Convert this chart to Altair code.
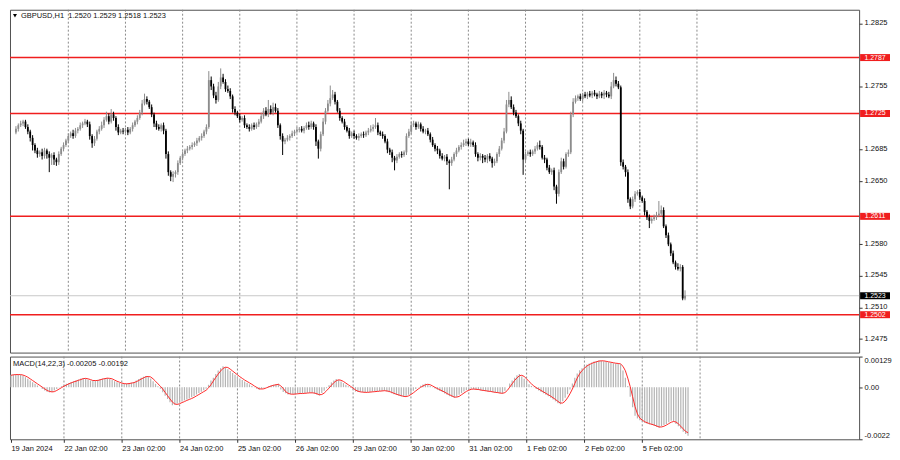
import altair as alt
import pandas as pd

# ---------------- data ----------------
# GBPUSD H1 closes, bar 0 = 19 Jan 2024 04:00 ... bar 281 = 5 Feb 21:00
close = [
    1.2708, 1.2712, 1.2714, 1.2716, 1.2710, 1.2705, 1.2698, 1.2690, 1.2684, 1.2680,
    1.2682, 1.2678, 1.2684, 1.2680, 1.2676, 1.2679, 1.2674, 1.2671, 1.2680, 1.2686,
    1.2690, 1.2695, 1.2700, 1.2703, 1.2700, 1.2706, 1.2708, 1.2712, 1.2714, 1.2716,
    1.2713, 1.2700, 1.2692, 1.2697, 1.2705, 1.2708, 1.2712, 1.2718, 1.2722, 1.2716,
    1.2724, 1.2720, 1.2710, 1.2704, 1.2706, 1.2705, 1.2707, 1.2704, 1.2708, 1.2712,
    1.2716, 1.2720, 1.2726, 1.2736, 1.2741, 1.2738, 1.2732, 1.2724, 1.2714, 1.2710,
    1.2708, 1.2712, 1.2706, 1.2680, 1.2660, 1.2655, 1.2658, 1.2660, 1.2670, 1.2676,
    1.2680, 1.2684, 1.2686, 1.2688, 1.2690, 1.2692, 1.2695, 1.2698, 1.2700, 1.2705,
    1.2710, 1.2762, 1.2755, 1.2745, 1.2740, 1.2755, 1.2765, 1.2760, 1.2752, 1.2750,
    1.2744, 1.2730, 1.2726, 1.2722, 1.2718, 1.2720, 1.2712, 1.2710, 1.2708, 1.2712,
    1.2710, 1.2713, 1.2716, 1.2722, 1.2728, 1.2724, 1.2730, 1.2726, 1.2732, 1.2728,
    1.2712, 1.2700, 1.2694, 1.2696, 1.2698, 1.2700, 1.2703, 1.2705, 1.2707, 1.2708,
    1.2706, 1.2709, 1.2712, 1.2710, 1.2714, 1.2710, 1.2694, 1.2686, 1.2702, 1.2716,
    1.2728, 1.2736, 1.2742, 1.2746, 1.2738, 1.2728, 1.2720, 1.2716, 1.2710, 1.2706,
    1.2700, 1.2703, 1.2700, 1.2698, 1.2700, 1.2702, 1.2701, 1.2704, 1.2706, 1.2708,
    1.2710, 1.2712, 1.2704, 1.2702, 1.2700, 1.2694, 1.2685, 1.2682, 1.2676, 1.2673,
    1.2677, 1.2680, 1.2679, 1.2682, 1.2700, 1.2705, 1.2712, 1.2714, 1.2710, 1.2713,
    1.2708, 1.2705, 1.2706, 1.2702, 1.2696, 1.2690, 1.2686, 1.2684, 1.2678, 1.2675,
    1.2677, 1.2672, 1.2670, 1.2674, 1.2680, 1.2684, 1.2688, 1.2690, 1.2692, 1.2694,
    1.2691, 1.2693, 1.2690, 1.2680, 1.2676, 1.2678, 1.2676, 1.2674, 1.2678, 1.2675,
    1.2670, 1.2672, 1.2680, 1.2686, 1.2695, 1.2705, 1.2735, 1.2740, 1.2732, 1.2726,
    1.2722, 1.2714, 1.2706, 1.2674, 1.2680, 1.2682, 1.2680, 1.2683, 1.2686, 1.2690,
    1.2688, 1.2676, 1.2674, 1.2665, 1.2660, 1.2662, 1.2644, 1.2636, 1.2660, 1.2672,
    1.2666, 1.2680, 1.2682, 1.2724, 1.2738, 1.2742, 1.2744, 1.2741, 1.2746, 1.2744,
    1.2747, 1.2745, 1.2748, 1.2746, 1.2744, 1.2747, 1.2745, 1.2748, 1.2746, 1.2744,
    1.2755, 1.2762, 1.2758, 1.2754, 1.2671, 1.2666, 1.2660, 1.2630, 1.2622, 1.2630,
    1.2636, 1.2638, 1.2632, 1.2628, 1.2616, 1.2610, 1.2606, 1.2608, 1.2610, 1.2612,
    1.2614, 1.2618, 1.2600, 1.2590, 1.2580, 1.2570, 1.2560, 1.2555, 1.2553, 1.2555,
    1.2520, 1.2523,
]
first_open = 1.2704

# wick lengths above / below the candle body, in pips
up_wick = [
    3, 2, 3, 2, 2, 3, 2, 3, 2, 3,
    2, 4, 3, 2, 3, 2, 3, 2, 3, 2,
    3, 2, 3, 2, 4, 3, 2, 3, 2, 3,
    2, 3, 2, 3, 2, 3, 4, 3, 5, 3,
    6, 3, 2, 3, 2, 3, 2, 3, 2, 3,
    2, 3, 3, 4, 6, 3, 2, 3, 2, 3,
    3, 2, 3, 2, 3, 2, 3, 2, 3, 2,
    3, 2, 3, 2, 3, 2, 3, 2, 3, 2,
    3, 10, 4, 3, 4, 5, 10, 4, 3, 4,
    3, 2, 3, 2, 3, 2, 3, 2, 3, 2,
    3, 2, 3, 4, 3, 4, 10, 4, 5, 4,
    3, 2, 3, 2, 3, 2, 3, 2, 3, 2,
    3, 2, 3, 4, 3, 2, 3, 2, 3, 4,
    3, 4, 14, 5, 3, 2, 3, 2, 3, 2,
    3, 2, 3, 2, 3, 2, 3, 2, 3, 4,
    3, 8, 3, 2, 3, 2, 3, 2, 3, 2,
    3, 2, 3, 2, 3, 3, 4, 3, 2, 3,
    2, 3, 2, 3, 2, 3, 2, 3, 2, 3,
    2, 3, 2, 3, 2, 3, 2, 3, 4, 3,
    3, 4, 2, 3, 2, 3, 2, 3, 2, 3,
    2, 3, 2, 3, 3, 4, 5, 9, 4, 3,
    3, 2, 3, 2, 3, 2, 3, 2, 3, 3,
    5, 2, 3, 2, 3, 2, 3, 2, 3, 4,
    3, 2, 3, 3, 4, 3, 2, 3, 2, 3,
    2, 3, 2, 3, 2, 3, 2, 3, 2, 3,
    5, 8, 4, 3, 2, 3, 2, 3, 2, 3,
    3, 2, 3, 2, 3, 2, 3, 2, 3, 4,
    14, 5, 3, 2, 3, 2, 3, 2, 4, 3,
    2, 6,
]
down_wick = [
    2, 3, 2, 3, 2, 3, 4, 6, 3, 4,
    3, 4, 3, 5, 16, 8, 6, 4, 3, 2,
    3, 2, 3, 2, 3, 2, 3, 2, 3, 2,
    3, 4, 5, 3, 2, 3, 2, 3, 2, 3,
    2, 3, 4, 3, 2, 3, 2, 3, 2, 3,
    2, 3, 2, 3, 2, 3, 2, 3, 4, 3,
    2, 3, 4, 5, 4, 5, 6, 4, 3, 2,
    3, 2, 3, 2, 3, 2, 3, 2, 3, 2,
    3, 2, 4, 3, 4, 2, 3, 2, 3, 2,
    3, 4, 3, 2, 3, 2, 3, 2, 3, 2,
    3, 2, 3, 2, 3, 2, 3, 2, 3, 2,
    3, 4, 15, 3, 2, 3, 2, 3, 2, 3,
    2, 3, 2, 3, 2, 3, 5, 11, 3, 2,
    3, 2, 3, 2, 3, 2, 3, 2, 3, 2,
    3, 2, 3, 2, 3, 2, 3, 2, 3, 2,
    3, 2, 3, 2, 3, 2, 4, 3, 5, 11,
    3, 2, 3, 2, 3, 2, 3, 2, 3, 2,
    3, 2, 3, 2, 3, 2, 3, 4, 3, 2,
    3, 4, 29, 3, 2, 3, 2, 3, 2, 3,
    2, 3, 2, 3, 4, 3, 6, 3, 4, 3,
    5, 3, 2, 3, 2, 3, 2, 3, 2, 3,
    2, 3, 4, 17, 3, 2, 3, 2, 3, 2,
    3, 2, 4, 3, 2, 3, 4, 11, 3, 2,
    3, 2, 3, 2, 3, 2, 3, 2, 3, 2,
    3, 2, 3, 2, 3, 2, 3, 4, 3, 2,
    3, 2, 3, 2, 4, 3, 5, 4, 3, 2,
    3, 2, 3, 2, 4, 3, 8, 3, 2, 3,
    2, 3, 2, 3, 2, 3, 2, 3, 2, 3,
    2, 2,
]

# MACD(14,22,3) histogram and signal, in units of 0.00001
macd_hist = [
    52, 53, 54, 53, 52, 48, 42, 35, 28, 21,
    14, 7, 0, -8, -14, -19, -22, -20, -14, -8,
    -2, 4, 10, 14, 18, 22, 25, 29, 32, 36,
    39, 36, 31, 28, 26, 28, 31, 34, 36, 38,
    39, 35, 30, 25, 21, 17, 14, 14, 15, 16,
    19, 22, 28, 34, 40, 44, 47, 45, 36, 25,
    14, 4, -7, -22, -36, -50, -64, -76, -74, -70,
    -65, -61, -56, -52, -48, -43, -37, -31, -25, -19,
    -13, -7, 10, 28, 40, 55, 70, 80, 88, 84,
    76, 68, 60, 52, 44, 37, 30, 24, 18, 12,
    5, -2, -7, -11, -7, -3, 1, 5, 8, 10,
    12, 14, -10, -20, -26, -31, -30, -29, -28, -27,
    -27, -26, -25, -24, -24, -24, -28, -32, -35, -25,
    -15, -5, 8, 20, 28, 34, 30, 24, 17, 10,
    4, -4, -12, -19, -20, -21, -22, -22, -21, -20,
    -19, -18, -17, -16, -15, -15, -18, -22, -26, -30,
    -33, -36, -39, -42, -38, -32, -24, -15, -8, -2,
    6, 11, 14, 10, 5, -1, -6, -11, -16, -21,
    -27, -32, -38, -42, -45, -40, -32, -25, -18, -12,
    -8, -7, -9, -10, -12, -14, -15, -17, -18, -20,
    -22, -23, -25, -26, -27, -15, 0, 15, 28, 40,
    50, 55, 45, 35, 25, 12, 5, -2, -8, -14,
    -20, -26, -32, -38, -45, -52, -60, -68, -72, -60,
    -45, -30, -10, 15, 40, 58, 71, 80, 90, 96,
    100, 104, 108, 110, 112, 111, 109, 107, 105, 103,
    101, 100, 98, 96, 70, 40, 5, -40, -85, -121,
    -132, -140, -145, -150, -154, -157, -160, -164, -168, -171,
    -165, -160, -155, -148, -142, -145, -155, -165, -175, -188,
    -198, -205,
]
macd_signal = [
    50, 52, 53, 53, 53, 51, 47, 42, 35, 28,
    21, 14, 7, 0, -7, -14, -18, -20, -19, -14,
    -8, -2, 4, 9, 14, 18, 22, 25, 29, 32,
    36, 37, 35, 32, 28, 28, 28, 31, 34, 36,
    38, 37, 35, 30, 25, 21, 17, 15, 14, 15,
    17, 19, 23, 28, 34, 39, 44, 45, 43, 35,
    25, 14, 4, -8, -22, -36, -50, -63, -71, -73,
    -70, -65, -61, -56, -52, -48, -43, -37, -31, -25,
    -19, -13, -3, 10, 26, 41, 55, 68, 79, 84,
    83, 76, 68, 60, 52, 44, 37, 30, 24, 18,
    12, 5, -1, -7, -8, -7, -3, 1, 5, 8,
    10, 12, 5, -5, -19, -26, -29, -30, -29, -28,
    -27, -27, -26, -25, -24, -24, -25, -28, -32, -31,
    -25, -15, -4, 8, 19, 27, 31, 29, 24, 17,
    10, 3, -4, -12, -17, -20, -21, -22, -22, -21,
    -20, -19, -18, -17, -16, -15, -16, -18, -22, -26,
    -30, -33, -36, -39, -40, -37, -31, -24, -16, -8,
    -1, 5, 10, 12, 10, 5, -1, -6, -11, -16,
    -21, -27, -32, -37, -42, -42, -39, -32, -25, -18,
    -13, -9, -8, -9, -10, -12, -14, -15, -17, -18,
    -20, -22, -23, -25, -26, -23, -14, 0, 14, 28,
    39, 48, 50, 45, 35, 24, 14, 5, -2, -8,
    -14, -20, -26, -32, -38, -45, -52, -60, -67, -67,
    -59, -45, -28, -8, 15, 38, 56, 70, 80, 89,
    95, 100, 104, 107, 110, 111, 111, 109, 107, 105,
    103, 101, 100, 98, 88, 69, 38, 2, -40, -82,
    -113, -131, -139, -146, -150, -154, -157, -160, -164, -168,
    -168, -165, -160, -154, -148, -145, -147, -155, -165, -176,
    -187, -192,
]

levels = [1.2787, 1.2725, 1.2611, 1.2502]
last_price = 1.2523
price_ticks = [1.2825, 1.2755, 1.2685, 1.2650, 1.2580, 1.2545, 1.2510, 1.2475]
price_domain = [1.2460, 1.2840]
day_lines = [22, 46, 70, 94, 118, 142, 166, 190, 214, 238, 262, 286]
date_pos = [0, 22, 46, 70, 94, 118, 142, 166, 190, 214, 238, 262]
date_labels = ["19 Jan 2024", "22 Jan 02:00", "23 Jan 02:00", "24 Jan 02:00",
               "25 Jan 02:00", "26 Jan 02:00", "29 Jan 02:00", "30 Jan 02:00",
               "31 Jan 02:00", "1 Feb 02:00", "2 Feb 02:00", "5 Feb 02:00"]
macd_ticks = [0.00129, 0.0, -0.0022]
macd_tick_labels = ["0.00129", "0.00", "-0.0022"]
macd_domain = [-0.0022, 0.00129]
header_text = "GBPUSD,H1\u00a0\u00a01.2520 1.2529 1.2518 1.2523"
macd_text = "MACD(14,22,3) -0.00205 -0.00192"

# ---------------- tables ----------------
n = min(len(close), len(up_wick), len(down_wick), len(macd_hist), len(macd_signal))
opens = [first_open] + close[: n - 1]
rows = []
for i in range(n):
    o, c = opens[i], close[i]
    rows.append({
        "i": i, "open": o, "close": c,
        "high": max(o, c) + up_wick[i] / 10000.0,
        "low": min(o, c) - down_wick[i] / 10000.0,
        "dir": "up" if c >= o else "down",
        "h": macd_hist[i] / 100000.0,
        "s": macd_signal[i] / 100000.0,
    })
df = pd.DataFrame(rows)
grid_df = pd.DataFrame({"i": day_lines})
lvl_df = pd.DataFrame({"p": levels, "lbl": [f"{v:.4f}" for v in levels]})
cur_df = pd.DataFrame({"p": [last_price], "lbl": [f"{last_price:.4f}"]})
head_df = pd.DataFrame({"t": [header_text]})
mhead_df = pd.DataFrame({"t": [macd_text]})

# ---------------- layout ----------------
W, H1, H2 = 852, 344, 83
FONT = "Liberation Sans"
FS = 7.5
TXT = "#111111"
xscale = alt.Scale(domain=[-0.4, 352], nice=False, zero=False)
yscale = alt.Scale(domain=price_domain, nice=False, zero=False)
mscale = alt.Scale(domain=macd_domain, nice=False, zero=False)

AX = dict(labelFont=FONT, labelFontSize=FS, labelColor=TXT, tickColor="#333333",
          title=None, grid=False, domain=False, labelOverlap=False)
yaxis = alt.Axis(orient="right", values=price_ticks, format=".4f",
                 tickSize=3, labelPadding=2, labelBaseline="bottom", labelOffset=3, **AX)
date_expr = " : ".join(f"datum.value == {p} ? '{l}'" for p, l in zip(date_pos, date_labels)) + " : ''"
xaxis = alt.Axis(orient="bottom", values=date_pos, labelExpr=date_expr,
                 labelAlign="left", labelFlush=False, tickSize=3, labelPadding=2, **AX)
macd_expr = " : ".join(f"datum.value == {v} ? '{l}'" for v, l in zip(macd_ticks, macd_tick_labels)) + " : ''"
maxis = alt.Axis(orient="right", values=macd_ticks, labelExpr=macd_expr,
                 labelFlush=True, tickSize=3, labelPadding=2, **AX)

X_main = alt.X("i:Q", scale=xscale, axis=None)
candle_color = alt.Color("dir:N", scale=alt.Scale(domain=["up", "down"], range=["#8c8c8c", "#000000"]), legend=None)

grid = alt.Chart(grid_df).mark_rule(color="#8a8a8a", strokeDash=[2, 2], strokeWidth=1).encode(x=X_main)
cur_line = alt.Chart(cur_df).mark_rule(color="#c8c8c8", strokeWidth=1).encode(
    y=alt.Y("p:Q", scale=yscale, axis=yaxis))
lvl_lines = alt.Chart(lvl_df).mark_rule(color="#f01e1e", strokeWidth=1.5).encode(
    y=alt.Y("p:Q", scale=yscale, axis=yaxis))
wicks = alt.Chart(df).mark_rule(strokeWidth=1).encode(
    x=X_main, y=alt.Y("low:Q", scale=yscale, axis=yaxis), y2="high:Q", color=candle_color)
bodies = alt.Chart(df).mark_bar(width=1.8).encode(
    x=X_main, y=alt.Y("open:Q", scale=yscale, axis=yaxis), y2="close:Q", color=candle_color)

box_shape = "M-4.286,-1H4.286V1H-4.286Z"
lvl_boxes = alt.Chart(lvl_df).mark_point(shape=box_shape, size=49, filled=True, opacity=1,
                                         color="#f01e1e", strokeWidth=0).encode(
    x=alt.value(W + 16), y=alt.Y("p:Q", scale=yscale, axis=yaxis))
lvl_text = alt.Chart(lvl_df).mark_text(font=FONT, fontSize=7, color="white", align="center",
                                       baseline="middle").encode(
    x=alt.value(W + 16), y=alt.Y("p:Q", scale=yscale, axis=yaxis), text="lbl:N")
cur_box = alt.Chart(cur_df).mark_point(shape=box_shape, size=49, filled=True, opacity=1,
                                       color="#000000", strokeWidth=0).encode(
    x=alt.value(W + 16), y=alt.Y("p:Q", scale=yscale, axis=yaxis))
cur_text = alt.Chart(cur_df).mark_text(font=FONT, fontSize=7, color="white", align="center",
                                       baseline="middle").encode(
    x=alt.value(W + 16), y=alt.Y("p:Q", scale=yscale, axis=yaxis), text="lbl:N")
tri = alt.Chart(head_df).mark_point(shape="triangle-down", size=16, filled=True, opacity=1,
                                    color="#000000").encode(x=alt.value(5), y=alt.value(6))
head = alt.Chart(head_df).mark_text(font=FONT, fontSize=FS, color=TXT, align="left",
                                    baseline="middle").encode(
    x=alt.value(11), y=alt.value(6), text="t:N")

main = alt.layer(grid, cur_line, lvl_lines, wicks, bodies, lvl_boxes, lvl_text,
                 cur_box, cur_text, tri, head).properties(width=W, height=H1)

X_m = alt.X("i:Q", scale=xscale, axis=xaxis)
mgrid = alt.Chart(grid_df).mark_rule(color="#8a8a8a", strokeDash=[2, 2], strokeWidth=1).encode(x=X_m)
hist = alt.Chart(df).mark_rule(color="#b4b4b4", strokeWidth=1.2).encode(
    x=X_m, y=alt.Y("h:Q", scale=mscale, axis=maxis), y2=alt.datum(0))
sig = alt.Chart(df).mark_line(color="#ff2a2a", strokeWidth=1).encode(
    x=X_m, y=alt.Y("s:Q", scale=mscale, axis=maxis))
mhead = alt.Chart(mhead_df).mark_text(font=FONT, fontSize=FS, color=TXT, align="left",
                                      baseline="middle").encode(
    x=alt.value(3), y=alt.value(7), text="t:N")

macd = alt.layer(mgrid, hist, sig, mhead).properties(width=W, height=H2)

chart = alt.vconcat(main, macd, spacing=2, padding=0, background="white").configure_view(
    stroke="#505050", strokeWidth=1
).configure_axis(
    labelFont=FONT, labelFontSize=FS, labelColor=TXT, tickColor="#333333"
)

chart.save("out.html", embed_options={"renderer": "svg", "actions": False})
